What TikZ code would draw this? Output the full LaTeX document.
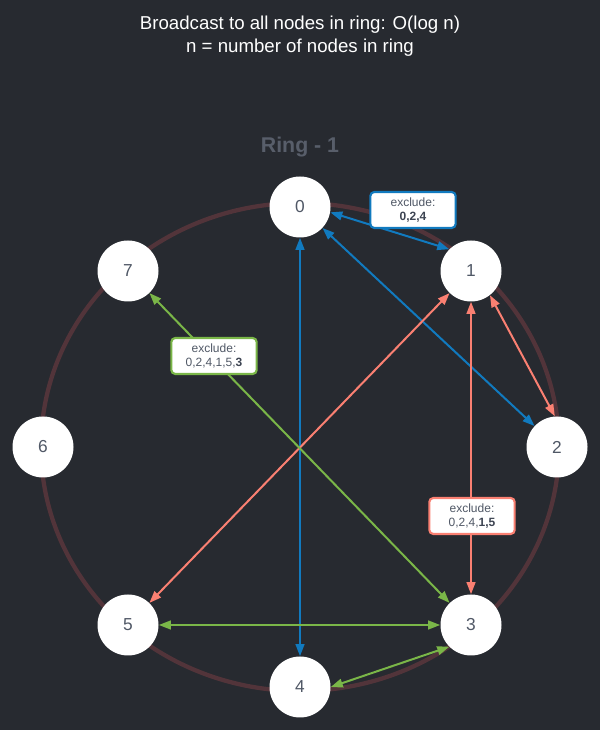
\documentclass[tikz,border=0pt]{standalone}
\usepackage{fontspec}
\setmainfont{Liberation Sans}
\usetikzlibrary{arrows.meta}
\definecolor{rgBack}{RGB}{39,42,48}
\definecolor{rgRing}{RGB}{82,52,58}
\definecolor{rgBlue}{RGB}{17,122,191}
\definecolor{rgSalmon}{RGB}{250,128,114}
\definecolor{rgGreen}{RGB}{122,182,72}
\definecolor{rgText}{RGB}{80,88,102}
\definecolor{rgBold}{RGB}{61,68,82}
\definecolor{rgLabel}{RGB}{88,94,106}
\tikzset{
  rgNode/.style={circle, fill=white, minimum size=45.75pt, inner sep=0pt,
                 text=rgText, font=\fontsize{13}{15}\selectfont},
  rgExclude/.style={draw=#1, line width=1.6pt, rounded corners=3pt, fill=white,
                    align=center, minimum width=64pt, minimum height=27pt,
                    inner sep=1pt, text=rgText, font=\fontsize{9}{10.5}\selectfont},
  rgMsg/.style={{Triangle[length=9pt,width=6.5pt]}-{Triangle[length=9pt,width=6.5pt]},
                line width=1.5pt, draw=#1},
  rgRingLine/.style={draw=rgRing, line width=3.2pt},
  rgTitle/.style={text=white, align=center, font=\fontsize{14}{17.6}\selectfont}
}
\newcommand{\rgB}[1]{\textcolor{rgBold}{\textbf{#1}}}

\begin{document}
\begin{tikzpicture}[x=0.75pt,y=0.75pt]
  \fill[rgBack] (0,0) rectangle (600,730);
  \useasboundingbox (0,0) rectangle (600,730);

  \node[rgTitle] (title) at (300,694) {Broadcast to all nodes in ring: O(log n)\\n = number of nodes in ring};
  \node[text=rgLabel, font=\fontsize{16}{19}\selectfont\bfseries] (ringname) at (300,583) {Ring - 1};

  % the ring itself
  \coordinate (ringC) at (300,283);
  \draw[rgRingLine] (ringC) ellipse [x radius=259, y radius=244];

  \node[rgNode] (n0) at (300,523) {0};
  \node[rgNode] (n1) at (471,459) {1};
  \node[rgNode] (n2) at (557,283) {2};
  \node[rgNode] (n3) at (471,105) {3};
  \node[rgNode] (n4) at (300,43)  {4};
  \node[rgNode] (n5) at (128,105) {5};
  \node[rgNode] (n6) at (43,283)  {6};
  \node[rgNode] (n7) at (128,459) {7};

  % step 1: node 0
  \draw[rgMsg=rgBlue] (n0.-10) -- (n1.135);
  \draw[rgMsg=rgBlue] (n0) -- (n2);
  \draw[rgMsg=rgBlue] (n0) -- (n4);
  % step 2: node 1
  \draw[rgMsg=rgSalmon] (n1.-52) -- (n2.94);
  \draw[rgMsg=rgSalmon] (n1) -- (n3);
  \draw[rgMsg=rgSalmon] (n1) -- (n5);
  % step 3: node 3
  \draw[rgMsg=rgGreen] (n3) -- (n7);
  \draw[rgMsg=rgGreen] (n3) -- (n5);
  \draw[rgMsg=rgGreen] (n3.-135) -- (n4.east);

  \node[rgExclude=rgBlue] (exBlue) at (413,520) {exclude:\\\rgB{0,2,4}};
  \node[rgExclude=rgSalmon] (exSalmon) at (472,214) {exclude:\\0,2,4,\rgB{1,5}};
  \node[rgExclude=rgGreen] (exGreen) at (214,374) {exclude:\\0,2,4,1,5,\rgB{3}};
\end{tikzpicture}
\end{document}
